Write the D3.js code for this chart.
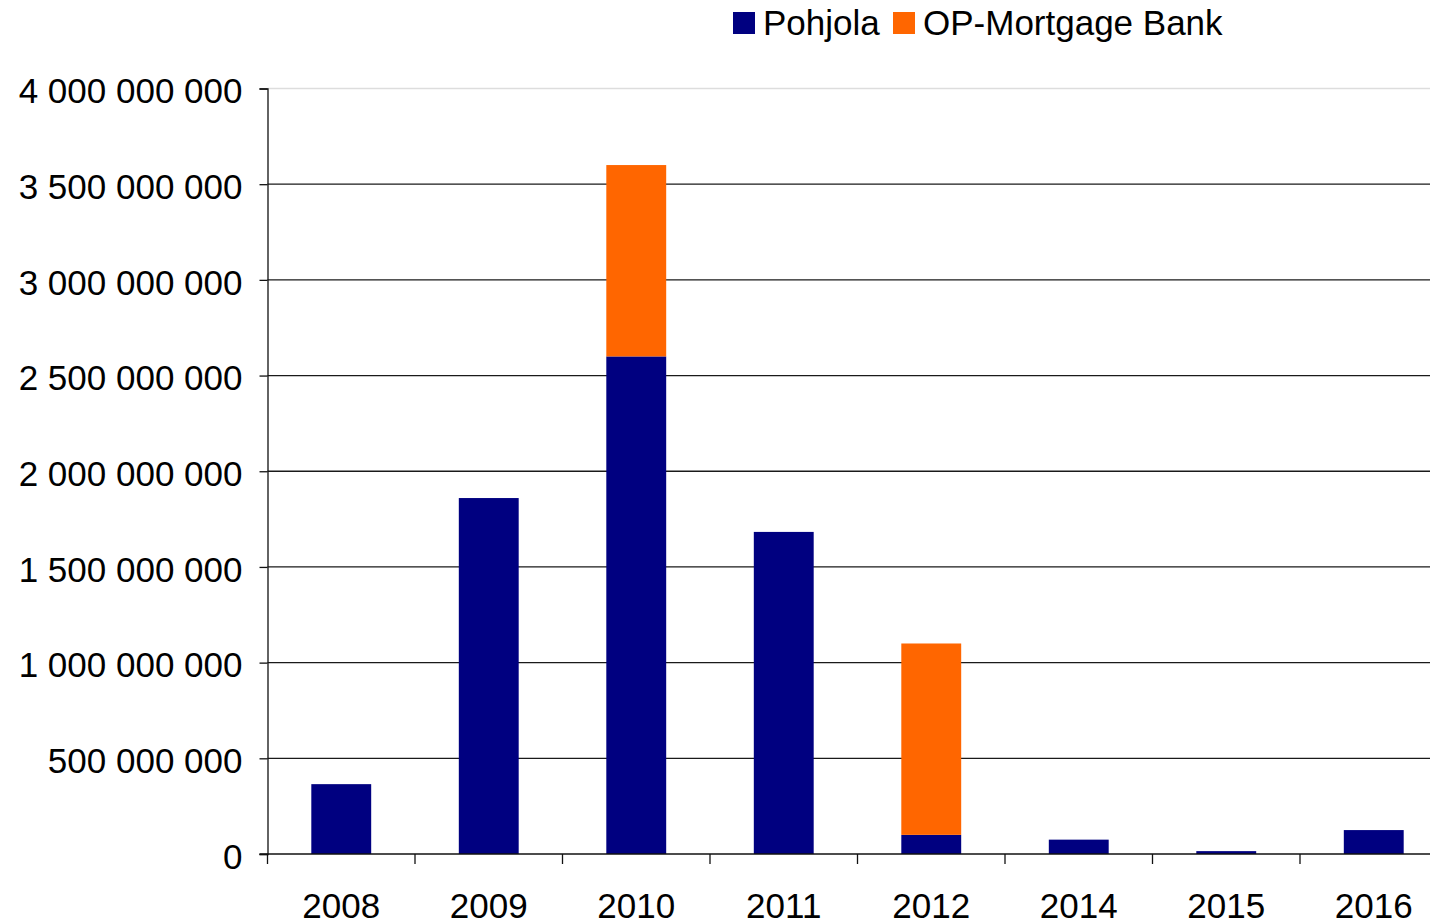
<!DOCTYPE html>
<html>
<head>
<meta charset="utf-8">
<script src="https://cdn.jsdelivr.net/npm/d3@7"></script>
<style>
  body { margin: 0; background: #fff; }
  svg { display: block; font-family: "Liberation Sans", Arial, sans-serif; }
</style>
</head>
<body>
<svg id="chart" width="1430" height="923"></svg>
<script>
const years = ["2008", "2009", "2010", "2011", "2012", "2014", "2015", "2016"];
const pohjola = [365e6, 1860e6, 2600e6, 1683e6, 100e6, 75e6, 15e6, 125e6];
const opMortgage = [0, 0, 1000e6, 0, 1000e6, 0, 0, 0];
const yTicks = [0, 5e8, 1e9, 1.5e9, 2e9, 2.5e9, 3e9, 3.5e9, 4e9];
const seriesNames = ["Pohjola", "OP-Mortgage Bank"];
const colors = ["#000080", "#ff6600"];

const svg = d3.select("#chart");
const plotLeft = 267.5, plotRight = 1447.5, plotTop = 88.5, plotBottom = 854;

const rows = years.map((y, i) => ({year: y, Pohjola: pohjola[i], "OP-Mortgage Bank": opMortgage[i]}));
const stacked = d3.stack().keys(seriesNames)(rows);

const pad = 0.594;
const x = d3.scaleBand().domain(years).range([plotLeft, plotRight])
    .paddingInner(pad).paddingOuter(pad / 2);
const y = d3.scaleLinear().domain([0, 4e9]).range([plotBottom, plotTop]);
const step = x.step();

// format like 4 000 000 000
const fmt = v => d3.format(",")(v).replace(/,/g, " ");

// gridlines
svg.append("g").selectAll("line")
    .data(yTicks.filter(t => t > 0))
    .enter().append("line")
    .attr("x1", plotLeft).attr("x2", 1430)
    .attr("y1", d => y(d)).attr("y2", d => y(d))
    .attr("stroke", d => d === 4e9 ? "#dddddd" : "#1a1a1a")
    .attr("stroke-width", 1.3);

// bars
svg.append("g").selectAll("g")
    .data(stacked)
    .enter().append("g")
    .attr("fill", (d, i) => colors[i])
    .selectAll("rect")
    .data(d => d.filter(s => s[1] - s[0] > 0))
    .enter().append("rect")
    .attr("x", d => x(d.data.year))
    .attr("y", d => y(d[1]))
    .attr("width", x.bandwidth())
    .attr("height", d => y(d[0]) - y(d[1]));

// y axis
const yAxis = svg.append("g")
    .attr("transform", "translate(" + plotLeft + ",0)")
    .call(d3.axisLeft(y).tickValues(yTicks).tickFormat(fmt).tickSize(8).tickPadding(17));
yAxis.select(".domain").attr("stroke", "#111").attr("stroke-width", 1.3);
yAxis.selectAll(".tick line").attr("stroke", "#111").attr("stroke-width", 1.3);
yAxis.selectAll("text")
    .attr("font-size", 35)
    .attr("fill", "#000")
    .attr("dy", "0.41em")
    .style("font-family", "'Liberation Sans', Arial, sans-serif");

// x axis
const xg = svg.append("g");
xg.append("line")
    .attr("x1", plotLeft - 8).attr("x2", 1430)
    .attr("y1", plotBottom).attr("y2", plotBottom)
    .attr("stroke", "#111").attr("stroke-width", 1.5);
xg.selectAll(".xtick")
    .data(years)
    .enter().append("line")
    .attr("class", "xtick")
    .attr("x1", d => x(d) - step * pad / 2)
    .attr("x2", d => x(d) - step * pad / 2)
    .attr("y1", plotBottom).attr("y2", plotBottom + 10)
    .attr("stroke", "#111").attr("stroke-width", 1.3);
xg.selectAll(".xlabel")
    .data(years)
    .enter().append("text")
    .attr("class", "xlabel")
    .attr("x", d => x(d) + x.bandwidth() / 2)
    .attr("y", 918)
    .attr("text-anchor", "middle")
    .attr("font-size", 35)
    .text(d => d);

// legend
const legendPos = [733, 893];
const legend = svg.append("g").selectAll("g")
    .data(seriesNames)
    .enter().append("g")
    .attr("transform", (d, i) => "translate(" + legendPos[i] + ",0)");
legend.append("rect")
    .attr("x", 0).attr("y", 12)
    .attr("width", 22).attr("height", 22)
    .attr("fill", (d, i) => colors[i]);
legend.append("text")
    .attr("x", 30).attr("y", 35)
    .attr("font-size", 35)
    .text(d => d);
</script>
</body>
</html>
